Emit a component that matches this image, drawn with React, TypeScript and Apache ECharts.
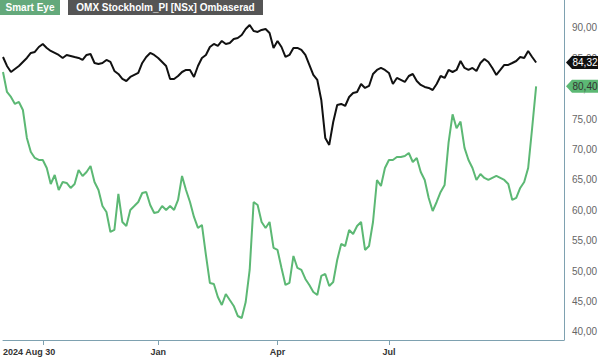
import React, { useEffect, useRef } from 'react';
import * as echarts from 'echarts';

// OMX Stockholm_PI [NSx] Ombaserad (rebased), about one reading per 2 trading days
const omx = [
  85.23, 83.75, 82.76, 83.26, 83.75, 84.41, 85.07, 85.89, 86.05, 86.87,
  87.37, 86.71, 86.22, 85.89, 85.56, 85.07, 85.56, 85.4, 85.23, 85.07,
  84.74, 85.56, 85.72, 84.24, 84.08, 84.24, 84.74, 84.41, 82.93, 82.43,
  81.61, 81.28, 81.94, 82.27, 82.6, 84.24, 85.23, 85.89, 85.56, 85.07,
  84.41, 83.75, 81.61, 81.61, 82.1, 82.76, 83.09, 83.09, 81.94, 83.75,
  85.07, 85.56, 86.87, 87.37, 87.04, 87.86, 87.37, 87.53, 88.19, 88.35,
  88.85, 89.83, 90.49, 89.5, 89.34, 89.67, 89.83, 89.18, 86.71, 87.86,
  86.87, 85.23, 85.56, 86.71, 86.71, 86.38, 85.56, 83.92, 82.27, 81.45,
  78.16, 71.91, 70.76, 74.54, 77.34, 77.5, 77.17, 78.65, 79.31, 79.47,
  80.79, 80.13, 80.46, 82.43, 83.09, 83.42, 83.09, 82.6, 80.79, 81.78,
  81.45, 81.12, 82.1, 82.43, 81.28, 80.63, 80.3, 80.13, 79.8, 80.79,
  82.1, 81.78, 83.09, 82.76, 83.09, 84.57, 83.42, 83.09, 83.42, 82.93,
  84.24, 84.9, 84.41, 83.42, 82.27, 83.09, 83.92, 83.92, 84.24, 84.57,
  85.23, 85.07, 86.22, 85.23, 84.32,
];

// Smart Eye
const smartEye = [
  82.76, 79.47, 78.65, 77.5, 77.83, 76.51, 71.91, 69.61, 68.62, 68.29,
  68.29, 66.97, 64.34, 65.82, 63.36, 64.67, 64.51, 63.69, 64.34, 66.64,
  65.66, 66.32, 67.3, 64.67, 63.36, 60.72, 59.74, 56.45, 56.78, 62.7,
  58.09, 57.43, 60.07, 60.72, 61.38, 62.86, 63.03, 60.89, 59.57, 59.74,
  60.72, 60.07, 60.72, 60.07, 61.71, 65.66, 63.36, 61.38, 58.92, 57.11,
  57.6, 52.67, 48.06, 47.9, 45.76, 44.44, 46.25, 45.26, 44.28, 42.63,
  42.3, 44.93, 50.2, 61.38, 60.89, 58.09, 57.11, 58.09, 53.82, 53.49,
  50.53, 47.73, 48.06, 52.5, 50.53, 50.2, 48.72, 47.73, 46.58, 46.09,
  49.21, 49.54, 47.57, 48.22, 51.84, 54.47, 54.14, 56.78, 56.12, 57.43,
  58.09, 53.49, 54.14, 58.09, 65.0, 64.01, 66.97, 68.29, 68.29, 68.78,
  68.78, 68.95, 69.44, 67.96, 68.62, 66.32, 65.0, 62.04, 59.9, 61.38,
  63.03, 64.18, 71.2, 75.8, 73.5, 74.6, 70.27, 68.29, 66.97, 65.0,
  65.99, 65.33, 65.0, 65.33, 65.66, 65.33, 65.0, 64.34, 61.71, 62.04,
  63.69, 64.67, 66.97, 73.55, 80.4,
];

// category slots (data + right padding)
const categories = Array.from({ length: 142 }, (_, i) => String(i));
const tickMarkIndices = [10, 39, 69, 97];
const tickLabels: [number, string][] = [
  [0, '2024 Aug 30'],
  [39, 'Jan'],
  [69, 'Apr'],
  [97, 'Jul'],
];
const yMin = 38.68;
const yMax = 94.6;
const lastOmx = 84.32;
const lastSmartEye = 80.4;

const FONT = '"Liberation Sans", Arial, sans-serif';
const AXIS_COLOR = '#7ea1b0';
const GREEN = '#5cb874';

const fmt = (v: number) => v.toFixed(2).replace('.', ',');

export default function App() {
  const ref = useRef<HTMLDivElement>(null);
  useEffect(() => {
    const chart = echarts.init(ref.current!, null, { renderer: 'svg' });
    const labelMap = new Map<number, string>(tickLabels);
    chart.setOption({
      animation: false,
      grid: { left: 0, right: 35, top: 0, bottom: 18, containLabel: false },
      xAxis: {
        type: 'category',
        data: categories,
        boundaryGap: false,
        axisLine: { show: true, lineStyle: { color: AXIS_COLOR, width: 1 } },
        axisTick: {
          show: true,
          length: 5,
          interval: (i: number) => tickMarkIndices.includes(i),
          lineStyle: { color: AXIS_COLOR },
        },
        axisLabel: {
          interval: (i: number) => labelMap.has(i),
          formatter: (_v: string, i: number) => labelMap.get(i) ?? '',
          fontSize: 9,
          fontWeight: 'bold',
          color: '#333',
          fontFamily: FONT,
          margin: 7,
          alignMinLabel: 'left',
        },
        splitLine: { show: false },
      },
      yAxis: {
        type: 'value',
        position: 'right',
        min: yMin,
        max: yMax,
        splitNumber: 11,
        minInterval: 5,
        maxInterval: 5,
        axisLine: { show: true, lineStyle: { color: AXIS_COLOR, width: 1 } },
        axisTick: { show: false },
        splitLine: { show: false },
        axisLabel: {
          showMinLabel: false,
          showMaxLabel: false,
          fontSize: 10,
          color: '#666',
          fontFamily: FONT,
          margin: 8,
          formatter: (v: number) =>
            Math.abs(v / 5 - Math.round(v / 5)) > 1e-6 ? '' : fmt(v),
        },
      },
      series: [
        {
          name: 'Smart Eye',
          type: 'line',
          data: smartEye,
          symbol: 'none',
          lineStyle: { color: GREEN, width: 2 },
          z: 2,
        },
        {
          name: 'OMX Stockholm_PI [NSx] Ombaserad',
          type: 'line',
          data: omx,
          symbol: 'none',
          lineStyle: { color: '#111', width: 2 },
          z: 3,
        },
      ],
    });

    const yO = chart.convertToPixel({ yAxisIndex: 0 }, lastOmx) as number;
    const yS = chart.convertToPixel({ yAxisIndex: 0 }, lastSmartEye) as number;
    const tag = (y: number, fill: string, textColor: string, text: string) => ({
      type: 'group',
      z: 100,
      children: [
        {
          type: 'polygon',
          shape: {
            points: [
              [566, y],
              [572, y - 6.5],
              [598, y - 6.5],
              [598, y + 6.5],
              [572, y + 6.5],
            ],
          },
          style: { fill },
          z: 100,
        },
        {
          type: 'text',
          x: 585,
          y,
          style: {
            text,
            fill: textColor,
            font: `10px ${FONT}`,
            align: 'center',
            verticalAlign: 'middle',
          },
          z: 101,
        },
      ],
    });

    chart.setOption({
      graphic: [
        {
          type: 'rect',
          shape: { x: 0, y: 0, width: 60, height: 15 },
          style: { fill: '#64a97b' },
          z: 100,
        },
        {
          type: 'text',
          x: 30,
          y: 7.5,
          style: {
            text: 'Smart Eye',
            fill: '#fff',
            font: `bold 10px ${FONT}`,
            align: 'center',
            verticalAlign: 'middle',
          },
          z: 101,
        },
        {
          type: 'rect',
          shape: { x: 68, y: 0, width: 195, height: 15 },
          style: { fill: '#555555' },
          z: 100,
        },
        {
          type: 'text',
          x: 165.5,
          y: 7.5,
          style: {
            text: 'OMX Stockholm_PI [NSx] Ombaserad',
            fill: '#fff',
            font: `bold 10px ${FONT}`,
            align: 'center',
            verticalAlign: 'middle',
          },
          z: 101,
        },
        tag(yO, '#111', '#fff', fmt(lastOmx)),
        tag(yS, GREEN, '#333', fmt(lastSmartEye)),
      ],
    });

    return () => chart.dispose();
  }, []);
  return (
    <div
      ref={ref}
      style={{ position: 'fixed', left: 0, top: 0, width: 600, height: 358, background: '#fff' }}
    />
  );
}
